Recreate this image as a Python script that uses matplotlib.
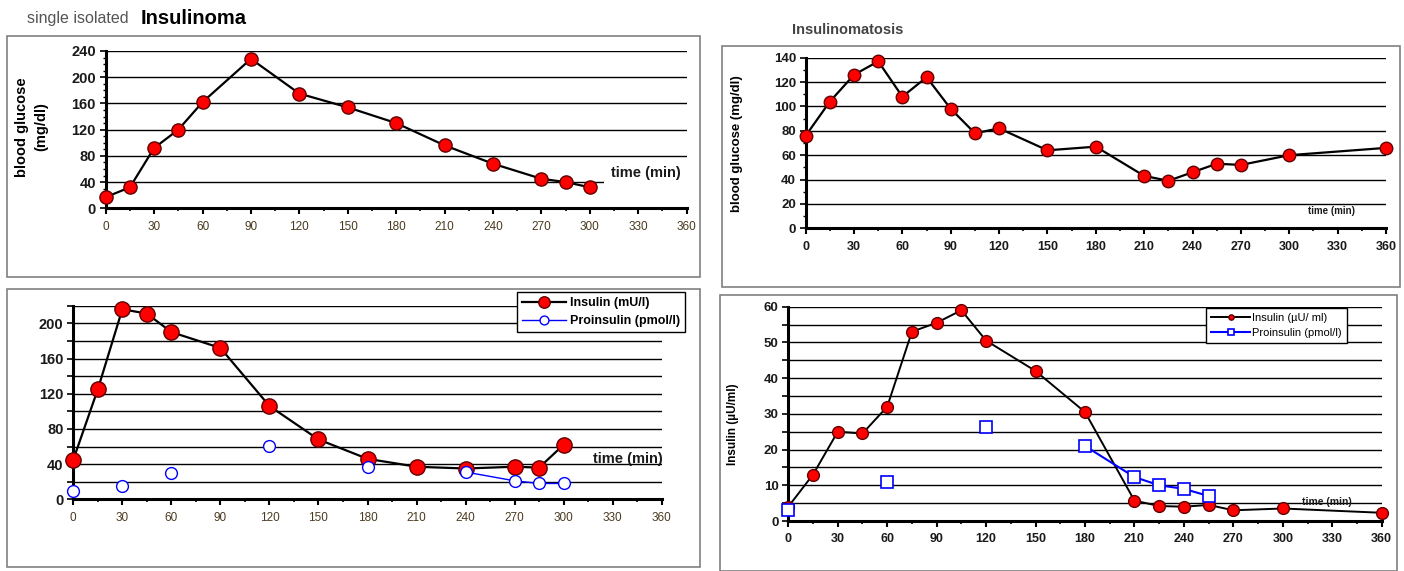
import numpy as np
import matplotlib
matplotlib.use("Agg")
import matplotlib.pyplot as plt
from matplotlib.patches import Rectangle
from matplotlib.ticker import MultipleLocator, FixedLocator

plt.rcParams['font.family'] = ['Liberation Sans', 'DejaVu Sans']

nan = np.nan
# --- single isolated insulinoma: blood glucose ---
t_glu1 = [0, 15, 30, 45, 60, 90, 120, 150, 180, 210, 240, 270, 285, 300]
glucose1 = [17, 32, 92, 120, 162, 228, 175, 154, 130, 96, 68, 45, 40, 32]
# --- single isolated insulinoma: insulin / proinsulin ---
t_ins2 = [0, 15, 30, 45, 60, 90, 120, 150, 180, 210, 240, 270, 285, 300]
insulin2 = [45, 125, 216, 211, 190, 172, 106, 68, 46, 37, 35, 37, 36, 62]
proinsulin2 = [10, nan, 15, nan, 30, nan, 61, nan, 37, nan, 31, 21, 18, 18]
# --- insulinomatosis: blood glucose ---
t_glu3 = [0, 15, 30, 45, 60, 75, 90, 105, 120, 150, 180, 210, 225, 240, 255, 270, 300, 360]
glucose3 = [76, 104, 126, 137, 108, 124, 98, 78, 82, 64, 67, 43, 39, 46, 53, 52, 60, 66]
# --- insulinomatosis: insulin / proinsulin ---
t_ins4 = [0, 15, 30, 45, 60, 75, 90, 105, 120, 150, 180, 210, 225, 240, 255, 270, 300, 360]
insulin4 = [4, 13, 25, 24.5, 32, 53, 55.5, 59, 50.5, 42, 30.5, 5.7, 4.2, 4, 4.5, 3, 3.5, 2.3]
proinsulin4 = [3, nan, nan, nan, 11, nan, nan, nan, 26.3, nan, 21, 12.3, 10, 9, 7, nan, nan, nan]

x_ticks = list(range(0, 361, 30))

W, H = 1404, 571
fig = plt.figure(figsize=(W / 100, H / 100), dpi=100)
fig.patch.set_facecolor('white')


def add_ax(x0, x1, ytop, ybot):
    return fig.add_axes([x0 / W, 1 - ybot / H, (x1 - x0) / W, (ybot - ytop) / H])


def box(x0, y0, x1, y1):
    fig.patches.append(Rectangle((x0 / W, 1 - y1 / H), (x1 - x0) / W, (y1 - y0) / H,
                                 transform=fig.transFigure, fill=False,
                                 edgecolor='#808080', lw=1.2))


def style(ax, ymax, ymajor, ylabel_step, yminor, xlab_bold, xfs, yfs, xcol, ycol):
    ax.set_xlim(0, 360)
    ax.set_ylim(0, ymax)
    for s in ['top', 'right']:
        ax.spines[s].set_visible(False)
    for s in ['left', 'bottom']:
        ax.spines[s].set_linewidth(2.2)
        ax.spines[s].set_color('black')
    ax.xaxis.set_major_locator(FixedLocator(x_ticks))
    ax.xaxis.set_minor_locator(MultipleLocator(15))
    yt = np.arange(0, ymax + 0.001, ymajor)
    ax.yaxis.set_major_locator(FixedLocator(yt))
    ax.set_yticklabels([(f"{v:g}" if (round(v / ylabel_step, 6) % 1 == 0) else '') for v in yt])
    if yminor:
        ax.yaxis.set_minor_locator(MultipleLocator(yminor))
    ax.set_xticklabels([str(v) for v in x_ticks])
    ax.tick_params(axis='x', which='major', length=4, width=1.5, direction='out', pad=5,
                   labelsize=xfs, labelcolor=xcol)
    ax.tick_params(axis='x', which='minor', length=2.5, width=1.2, direction='out')
    ax.tick_params(axis='y', which='major', length=4, width=1.2, direction='out', pad=3,
                   labelsize=yfs, labelcolor=ycol)
    ax.tick_params(axis='y', which='minor', length=2.5, width=1, direction='out')
    for lab in ax.get_yticklabels():
        lab.set_fontweight('bold')
    if xlab_bold:
        for lab in ax.get_xticklabels():
            lab.set_fontweight('bold')
    ax.yaxis.grid(True, which='major', color='black', lw=1)
    ax.set_axisbelow(True)
    ax.patch.set_alpha(0)


# outer frames
box(7, 36, 700, 277)
box(7, 289, 700, 567)
box(722, 46, 1400, 287)
box(720, 295, 1397, 571)

red = '#ff0000'
medge = '#600000'

# ---------------- Panel 1 ----------------
ax1 = add_ax(105.7, 686.7, 51, 208.3)
style(ax1, 240, 40, 40, 10, False, 8.5, 10.5, '#4a3a20', '#1a1a1a')
ax1.plot(t_glu1, glucose1, color='black', lw=1.6, marker='o', ms=9.5,
         mfc=red, mec=medge, mew=1, clip_on=False, zorder=3)
ax1.text(313, 54, 'time (min)', fontsize=10.5, fontweight='bold', color='#1a1a1a',
         ha='left', va='center', zorder=4,
         bbox=dict(facecolor='white', edgecolor='none', pad=5))
fig.text(22 / W, 1 - 127 / H, 'blood glucose', rotation=90, fontsize=10.5,
         fontweight='bold', ha='center', va='center')
fig.text(41 / W, 1 - 127 / H, '(mg/dl)', rotation=90, fontsize=10.5,
         fontweight='bold', ha='center', va='center')
fig.text(27 / W, 1 - 19 / H, 'single isolated', fontsize=11.5, color='#555555',
         ha='left', va='center')
fig.text(141 / W, 1 - 18 / H, 'Insulinoma', fontsize=14.5, fontweight='bold',
         color='black', ha='left', va='center')

# ---------------- Panel 2 ----------------
ax2 = add_ax(73.3, 661.7, 305.7, 499.3)
style(ax2, 220, 20, 40, None, False, 8.5, 10.5, '#4a3a20', '#1a1a1a')
l_ins2, = ax2.plot(t_ins2, insulin2, color='black', lw=1.6, marker='o', ms=11,
                   mfc=red, mec=medge, mew=1, clip_on=False, zorder=3,
                   label='Insulin (mU/l)')
l_pro2, = ax2.plot(t_ins2, proinsulin2, color='#0000ff', lw=1, marker='o', ms=8.5,
                   mfc='white', mec='#0000ff', mew=1, clip_on=False, zorder=4,
                   label='Proinsulin (pmol/l)')
ax2.text(318, 46, 'time (min)', fontsize=10.5, fontweight='bold', color='#1a1a1a',
         ha='left', va='center', zorder=5)
leg2 = ax2.legend(handles=[l_ins2, l_pro2], loc='upper right',
                  bbox_to_anchor=(685 / W, 1 - 292 / H), bbox_transform=fig.transFigure,
                  fancybox=False, edgecolor='black', framealpha=1, markerscale=0.75,
                  prop={'weight': 'bold', 'size': 9}, handlelength=3.5,
                  borderpad=0.4, labelspacing=0.5, handletextpad=0.3, borderaxespad=0)
leg2.get_frame().set_linewidth(1)
leg2.set_zorder(10)

# ---------------- Panel 3 ----------------
ax3 = add_ax(805.7, 1386, 57.7, 228.3)
style(ax3, 140, 20, 20, 10, True, 9, 9.5, '#1a1a1a', '#1a1a1a')
ax3.plot(t_glu3, glucose3, color='black', lw=1.6, marker='o', ms=9,
         mfc=red, mec=medge, mew=1, clip_on=False, zorder=3)
ax3.text(311.5, 14, 'time (min)', fontsize=7, fontweight='bold', color='#1a1a1a',
         ha='left', va='center', zorder=5)
fig.text(737 / W, 1 - 144 / H, 'blood glucose (mg/dl)', rotation=90, fontsize=9.5,
         fontweight='bold', ha='center', va='center')
fig.text(792 / W, 1 - 30 / H, 'Insulinomatosis', fontsize=10.5, fontweight='bold',
         color='#444444', ha='left', va='center')

# ---------------- Panel 4 ----------------
ax4 = add_ax(788.3, 1381.7, 306.7, 521)
style(ax4, 60, 5, 10, None, True, 9, 9.5, '#1a1a1a', '#1a1a1a')
l_ins4, = ax4.plot(t_ins4, insulin4, color='black', lw=1.4, marker='o', ms=8.5,
                   mfc=red, mec=medge, mew=1, clip_on=False, zorder=3,
                   label='Insulin (µU/ ml)')
l_pro4, = ax4.plot(t_ins4, proinsulin4, color='#0000ff', lw=1.5, marker='s', ms=8.5,
                   mfc='white', mec='#0000ff', mew=1.2, clip_on=False, zorder=4,
                   label='Proinsulin (pmol/l)')
ax4.text(311.5, 5.4, 'time (min)', fontsize=7.5, fontweight='bold', color='#1a1a1a',
         ha='left', va='center', zorder=5)
fig.text(733 / W, 1 - 424 / H, 'Insulin (µU/ml)', rotation=90, fontsize=8.5,
         fontweight='bold', ha='center', va='center')
leg4 = ax4.legend(handles=[l_ins4, l_pro4], loc='upper right',
                  bbox_to_anchor=(1347 / W, 1 - 308 / H), bbox_transform=fig.transFigure,
                  fancybox=False, edgecolor='black', framealpha=1, markerscale=0.45,
                  prop={'size': 8}, handlelength=3.5, borderpad=0.45,
                  labelspacing=0.45, handletextpad=0.2, borderaxespad=0)
leg4.get_frame().set_linewidth(1)
leg4.set_zorder(10)

fig.savefig('out.png', dpi=100, facecolor='white')
